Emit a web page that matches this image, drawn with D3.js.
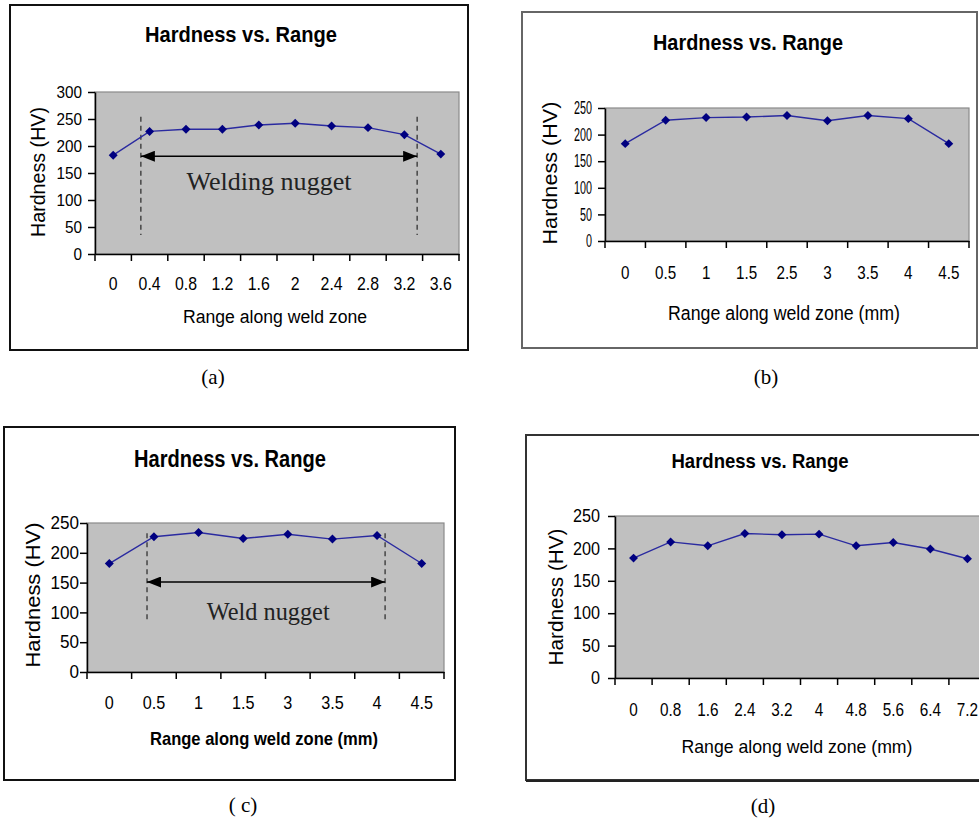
<!DOCTYPE html>
<html>
<head>
<meta charset="utf-8">
<script src="https://cdn.jsdelivr.net/npm/d3@7.9.0/dist/d3.min.js"></script>
<style>
  body { margin: 0; background: #fff; }
  svg text { fill: #000; }
</style>
</head>
<body>
<svg id="chart" width="979" height="818"></svg>
<script>
// data
const rangeA = ['0', '0.4', '0.8', '1.2', '1.6', '2', '2.4', '2.8', '3.2', '3.6'];
const hardnessA = [183, 227, 231, 231, 239, 242, 237, 234, 221, 185];
const rangeB = ['0', '0.5', '1', '1.5', '2.5', '3', '3.5', '4', '4.5'];
const hardnessB = [183, 227, 232, 233, 236, 226, 236, 230, 183];
const rangeC = ['0', '0.5', '1', '1.5', '3', '3.5', '4', '4.5'];
const hardnessC = [182, 227, 234, 224, 231, 223, 229, 182];
const rangeD = ['0', '0.8', '1.6', '2.4', '3.2', '4', '4.8', '5.6', '6.4', '7.2'];
const hardnessD = [185, 210, 204, 223, 221, 222, 204, 209, 199, 184];
const yTicksA = [0, 50, 100, 150, 200, 250, 300];
const yTicksBCD = [0, 50, 100, 150, 200, 250];

const SANS = 'Liberation Sans, Arial, sans-serif';
const SERIF = 'Liberation Serif, Times New Roman, serif';

const svg = d3.select('#chart');

const defs = svg.append('defs');
defs.append('marker')
  .attr('id', 'arrow')
  .attr('viewBox', '0 0 14 11')
  .attr('refX', 14).attr('refY', 5.5)
  .attr('markerWidth', 14).attr('markerHeight', 11)
  .attr('markerUnits', 'userSpaceOnUse')
  .attr('orient', 'auto-start-reverse')
  .append('path')
  .attr('d', 'M0,0L14,5.5L0,11Z')
  .attr('fill', '#000');

// excel-style square diamond marker
const diamond = {
  draw(ctx, size) {
    const r = Math.sqrt(size / 2);
    ctx.moveTo(0, -r); ctx.lineTo(r, 0); ctx.lineTo(0, r); ctx.lineTo(-r, 0); ctx.closePath();
  }
};

function label(g, text, x, y, o) {
  const t = g.append('text')
    .attr('x', x).attr('y', y)
    .attr('text-anchor', 'middle')
    .attr('font-family', o.family || SANS)
    .attr('font-size', o.size)
    .attr('font-weight', o.weight || 'normal')
    .text(text);
  if (o.len) t.attr('textLength', o.len).attr('lengthAdjust', 'spacingAndGlyphs');
  if (o.rotate) t.attr('transform', `rotate(-90,${x},${y})`);
  return t;
}

function drawPanel(cfg, cats, vals, yTicks) {
  const g = svg.append('g');
  const [fl, ft, fr, fb] = cfg.frame;
  g.append('rect')
    .attr('x', fl).attr('y', ft)
    .attr('width', fr - fl).attr('height', fb - ft)
    .attr('fill', '#fff')
    .attr('stroke', cfg.frameColor)
    .attr('stroke-width', 2);
  if (cfg.shadow) {
    g.append('line').attr('x1', fl).attr('x2', fr).attr('y1', fb + 1).attr('y2', fb + 1)
      .attr('stroke', '#222').attr('stroke-width', 2);
  }

  const [l, t, r, b] = cfg.plot;
  const x = d3.scaleBand().domain(cats).range([l, r]);
  const y = d3.scaleLinear().domain([0, cfg.yMax]).range([b, t]);
  const edge = d3.scaleLinear().domain([0, cats.length]).range([l, r]);

  g.append('rect')
    .attr('x', l).attr('y', t)
    .attr('width', r - l).attr('height', b - t)
    .attr('fill', '#c0c0c0')
    .attr('stroke', '#8a8a8a')
    .attr('stroke-width', 1.2);

  // y axis
  const yAxis = d3.axisLeft(y).tickValues(yTicks).tickSize(7).tickSizeOuter(0);
  const ya = g.append('g').attr('transform', `translate(${l},0)`).call(yAxis);
  ya.select('.domain').attr('stroke', '#000').attr('stroke-width', 1.5);
  ya.selectAll('.tick line').attr('stroke', '#000').attr('stroke-width', 1.5);
  ya.selectAll('.tick text')
    .attr('x', null)
    .attr('font-family', SANS)
    .attr('font-size', cfg.yTick.size)
    .attr('transform', `translate(${-(7 + cfg.yTick.pad)},0) scale(${cfg.yTick.sx},1)`);

  // x axis: labels centred in each category, tick marks between them
  const xAxis = d3.axisBottom(x).tickSize(0).tickSizeOuter(0)
    .tickPadding(cfg.xTick.baseline - b - 0.71 * cfg.xTick.size);
  const xa = g.append('g').attr('transform', `translate(0,${b})`).call(xAxis);
  xa.select('.domain').attr('stroke', '#000').attr('stroke-width', 1.5);
  xa.selectAll('.tick text')
    .attr('font-family', SANS)
    .attr('font-size', cfg.xTick.size)
    .attr('transform', `scale(${cfg.xTick.sx},1)`);
  g.append('g').selectAll('line')
    .data(d3.range(cats.length + 1))
    .join('line')
    .attr('x1', (i) => edge(i)).attr('x2', (i) => edge(i))
    .attr('y1', b).attr('y2', b + 7)
    .attr('stroke', '#000').attr('stroke-width', 1.5);

  // nugget annotation
  if (cfg.nugget) {
    const n = cfg.nugget;
    g.append('g').selectAll('line')
      .data(n.edges)
      .join('line')
      .attr('x1', (d) => edge(d)).attr('x2', (d) => edge(d))
      .attr('y1', y(n.dash[0])).attr('y2', y(n.dash[1]))
      .attr('stroke', '#333').attr('stroke-width', 1.3)
      .attr('stroke-dasharray', '5,4');
    g.append('line')
      .attr('x1', edge(n.edges[0])).attr('x2', edge(n.edges[1]))
      .attr('y1', y(n.arrow)).attr('y2', y(n.arrow))
      .attr('stroke', '#000').attr('stroke-width', 1.5)
      .attr('marker-start', 'url(#arrow)')
      .attr('marker-end', 'url(#arrow)');
    label(g, n.text, edge(n.textAt), y(n.textY), { family: SERIF, size: n.size, len: n.len })
      .style('fill', '#222');
  }

  // series
  const pts = cats.map((c, i) => [x(c) + x.bandwidth() / 2, y(vals[i])]);
  g.append('path')
    .attr('d', d3.line()(pts))
    .attr('fill', 'none')
    .attr('stroke', '#2a2aa0')
    .attr('stroke-width', 1.4);
  g.append('g').selectAll('path')
    .data(pts)
    .join('path')
    .attr('transform', (p) => `translate(${p[0]},${p[1]})`)
    .attr('d', d3.symbol(diamond, 40))
    .attr('fill', '#000080');

  // titles
  label(g, 'Hardness vs. Range', cfg.title.x, cfg.title.y,
    { size: cfg.title.size, weight: 'bold', len: cfg.title.len });
  label(g, 'Hardness (HV)', cfg.yTitle.x, cfg.yTitle.y,
    { size: cfg.yTitle.size, len: cfg.yTitle.len, rotate: true });
  label(g, cfg.xTitle.text, cfg.xTitle.x, cfg.xTitle.y,
    { size: cfg.xTitle.size, weight: cfg.xTitle.weight, len: cfg.xTitle.len });
  label(svg, cfg.caption.text, cfg.caption.x, cfg.caption.y, { family: SERIF, size: 21 });
}

drawPanel({
  frame: [10, 5, 468, 350], frameColor: '#111',
  plot: [95, 92, 459, 254], yMax: 300,
  title: { x: 241, y: 42, size: 22, len: 192 },
  yTick: { size: 17, sx: 0.9, pad: 6 },
  yTitle: { x: 45, y: 172, size: 20, len: 130 },
  xTick: { size: 18, sx: 0.88, baseline: 290 },
  xTitle: { text: 'Range along weld zone', x: 275, y: 323, size: 18, len: 184 },
  caption: { text: '(a)', x: 213, y: 384 },
  nugget: { edges: [1.26, 8.85], dash: [254, 35], arrow: 181, text: 'Welding nugget',
    textAt: 4.78, textY: 118, size: 25, len: 165 }
}, rangeA, hardnessA, yTicksA);

drawPanel({
  frame: [522, 12, 977, 348], frameColor: '#666',
  plot: [605, 108, 969, 241], yMax: 250,
  title: { x: 748, y: 50, size: 22, len: 190 },
  yTick: { size: 18, sx: 0.6, pad: 6 },
  yTitle: { x: 557, y: 173, size: 20, len: 143 },
  xTick: { size: 19, sx: 0.8, baseline: 279 },
  xTitle: { text: 'Range along weld zone (mm)', x: 784, y: 320, size: 20, len: 232 },
  caption: { text: '(b)', x: 766, y: 384 }
}, rangeB, hardnessB, yTicksBCD);

drawPanel({
  frame: [4, 427, 455, 780], frameColor: '#111',
  plot: [87, 523, 444, 672], yMax: 250,
  title: { x: 230, y: 467, size: 23, len: 192 },
  yTick: { size: 18, sx: 0.95, pad: 1 },
  yTitle: { x: 40, y: 595, size: 20, len: 145 },
  xTick: { size: 18, sx: 0.9, baseline: 709 },
  xTitle: { text: 'Range along weld zone (mm)', x: 264, y: 745, size: 19, weight: 'bold', len: 228 },
  caption: { text: '( c)', x: 243, y: 812 },
  nugget: { edges: [1.345, 6.68], dash: [233, 84], arrow: 151, text: 'Weld nugget',
    textAt: 4.06, textY: 87, size: 25, len: 123 }
}, rangeC, hardnessC, yTicksBCD);

drawPanel({
  frame: [526, 435, 1000, 780], frameColor: '#333', shadow: true,
  plot: [615, 516, 986, 678], yMax: 250,
  title: { x: 760, y: 468, size: 21, len: 177 },
  yTick: { size: 18, sx: 0.9, pad: 8 },
  yTitle: { x: 563, y: 597, size: 20, len: 137 },
  xTick: { size: 18, sx: 0.85, baseline: 716 },
  xTitle: { text: 'Range along weld zone (mm)', x: 797, y: 753, size: 19, len: 231 },
  caption: { text: '(d)', x: 763, y: 813 }
}, rangeD, hardnessD, yTicksBCD);
</script>
</body>
</html>
